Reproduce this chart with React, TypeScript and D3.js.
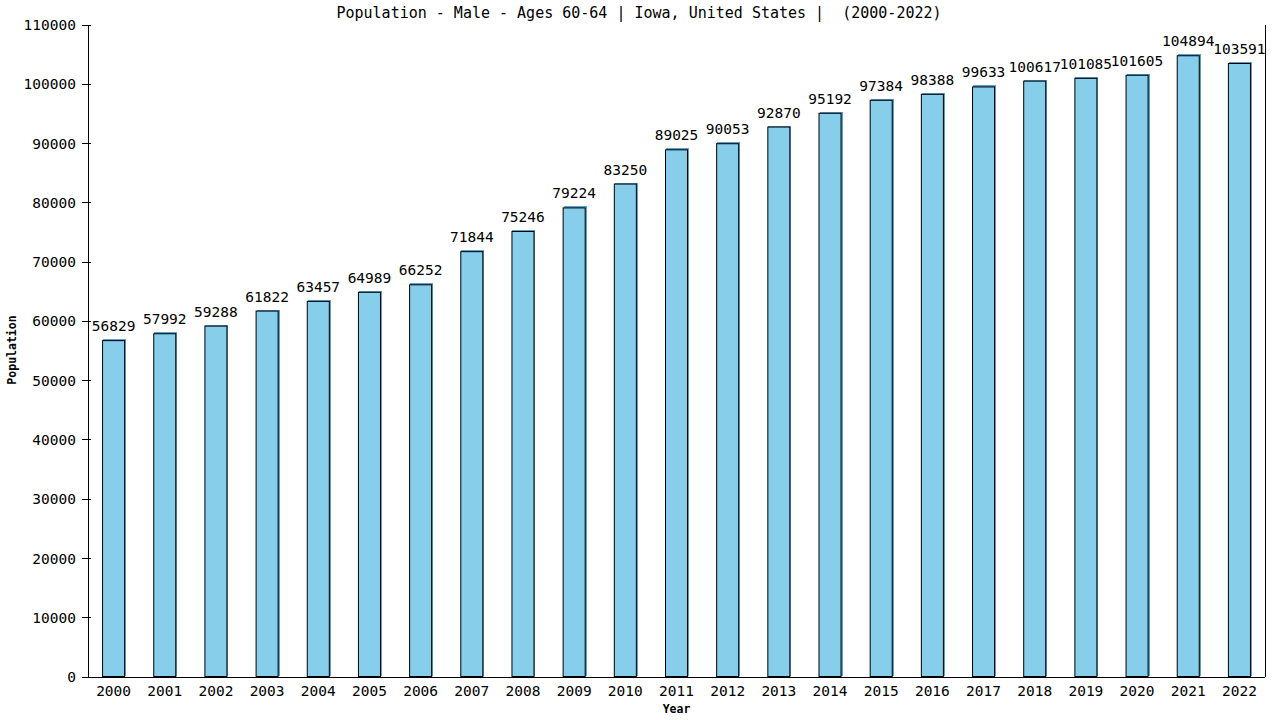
import { useEffect, useRef } from 'react';
import * as d3 from 'd3';

const years = [
  '2000', '2001', '2002', '2003', '2004', '2005', '2006', '2007', '2008', '2009', '2010', '2011',
  '2012', '2013', '2014', '2015', '2016', '2017', '2018', '2019', '2020', '2021', '2022',
];

const population = [
  56829, 57992, 59288, 61822, 63457, 64989, 66252, 71844, 75246, 79224, 83250, 89025,
  90053, 92870, 95192, 97384, 98388, 99633, 100617, 101085, 101605, 104894, 103591,
];

const yTicks = [0, 10000, 20000, 30000, 40000, 50000, 60000, 70000, 80000, 90000, 100000, 110000];

const title = 'Population - Male - Ages 60-64 | Iowa, United States |  (2000-2022)';
const xTitle = 'Year';
const yTitle = 'Population';

export default function App() {
  const svgRef = useRef<SVGSVGElement>(null);

  useEffect(() => {
    if (!svgRef.current) return;

    const width = 1280;
    const height = 720;
    const margin = { top: 25, right: 15, bottom: 43, left: 88 };
    const font = '"DejaVu Sans Mono", monospace';

    const svg = d3.select(svgRef.current);
    svg.selectAll('*').remove();
    svg.attr('width', width).attr('height', height).attr('viewBox', `0 0 ${width} ${height}`);

    const x = d3.scaleBand()
      .domain(years)
      .range([margin.left, width - margin.right])
      .paddingInner(0.55)
      .paddingOuter(0.275);

    const y = d3.scaleLinear()
      .domain([0, 110000])
      .range([height - margin.bottom, margin.top]);

    const data = years.map((year, i) => ({ year, value: population[i] }));

    // bars: blue shadow shifted up/right, then outlined bar
    const bars = svg.append('g');
    bars.selectAll('rect.shadow')
      .data(data)
      .join('rect')
      .attr('class', 'shadow')
      .attr('x', d => (x(d.year) || 0) + 1)
      .attr('y', d => y(d.value) - 1)
      .attr('width', x.bandwidth())
      .attr('height', d => y(0) - y(d.value))
      .attr('fill', '#5b9fcc')
      .attr('shape-rendering', 'crispEdges');

    bars.selectAll('rect.bar')
      .data(data)
      .join('rect')
      .attr('class', 'bar')
      .attr('x', d => (x(d.year) || 0) + 0.5)
      .attr('y', d => y(d.value) + 0.5)
      .attr('width', x.bandwidth() - 1)
      .attr('height', d => y(0) - y(d.value) - 1)
      .attr('fill', '#87ceeb')
      .attr('stroke', '#000')
      .attr('stroke-width', 1);

    // value labels
    svg.append('g')
      .selectAll('text')
      .data(data)
      .join('text')
      .attr('x', d => (x(d.year) || 0) + x.bandwidth() / 2)
      .attr('y', d => y(d.value) - 9)
      .attr('text-anchor', 'middle')
      .style('font', `14.5px ${font}`)
      .attr('fill', '#000')
      .text(d => String(d.value));

    // axes lines: left, bottom, right (no top)
    const frame = svg.append('g')
      .attr('stroke', '#000')
      .attr('stroke-width', 1)
      .attr('shape-rendering', 'crispEdges');
    frame.append('line')
      .attr('x1', margin.left).attr('x2', margin.left)
      .attr('y1', y(110000)).attr('y2', y(0));
    frame.append('line')
      .attr('x1', margin.left).attr('x2', width - margin.right)
      .attr('y1', y(0)).attr('y2', y(0));
    frame.append('line')
      .attr('x1', width - margin.right).attr('x2', width - margin.right)
      .attr('y1', y(110000)).attr('y2', y(0));

    // y ticks
    frame.selectAll('line.tick')
      .data(yTicks)
      .join('line')
      .attr('class', 'tick')
      .attr('x1', margin.left - 6).attr('x2', margin.left + 3)
      .attr('y1', d => y(d)).attr('y2', d => y(d));

    svg.append('g')
      .selectAll('text')
      .data(yTicks)
      .join('text')
      .attr('x', margin.left - 12)
      .attr('y', d => y(d))
      .attr('dy', '0.35em')
      .attr('text-anchor', 'end')
      .style('font', `14.5px ${font}`)
      .text(d => String(d));

    // x labels
    svg.append('g')
      .selectAll('text')
      .data(years)
      .join('text')
      .attr('x', d => (x(d) || 0) + x.bandwidth() / 2)
      .attr('y', y(0) + 19)
      .attr('text-anchor', 'middle')
      .style('font', `14.5px ${font}`)
      .text(d => d);

    // titles
    svg.append('text')
      .attr('x', 639)
      .attr('y', 18)
      .attr('text-anchor', 'middle')
      .style('font', `15px ${font}`)
      .style('white-space', 'pre')
      .text(title);

    svg.append('text')
      .attr('x', (margin.left + width - margin.right) / 2)
      .attr('y', 713)
      .attr('text-anchor', 'middle')
      .style('font', `bold 11.5px ${font}`)
      .text(xTitle);

    svg.append('text')
      .attr('transform', `translate(16,${350}) rotate(-90)`)
      .attr('text-anchor', 'middle')
      .style('font', `bold 11.5px ${font}`)
      .text(yTitle);
  }, []);

  return (
    <div style={{ position: 'absolute', left: 0, top: 0, width: 1280, height: 720, background: '#fff' }}>
      <svg ref={svgRef} style={{ display: 'block' }} />
    </div>
  );
}
